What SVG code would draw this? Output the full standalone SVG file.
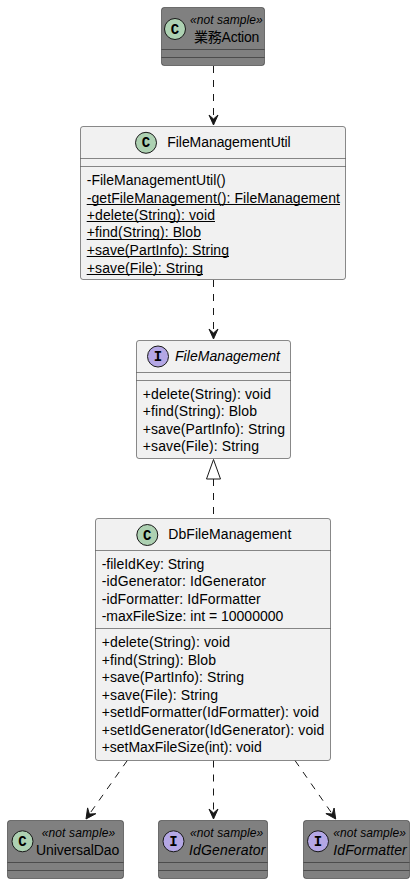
<svg xmlns="http://www.w3.org/2000/svg" width="415" height="884" viewBox="0 0 415 884">
<defs>
<style>
text{font-family:"Liberation Sans","Noto Sans CJK JP",sans-serif;font-size:14px;fill:#000}
.b{fill:#F1F1F1;stroke:#181818;stroke-width:.5}
.g{fill:#808080;stroke:#181818;stroke-width:.5}
.l{stroke:#181818;stroke-width:.5;fill:none}
.c{fill:#ADD1B2;stroke:#181818;stroke-width:1}
.i{fill:#B4A7E5;stroke:#181818;stroke-width:1}
.s{font-size:12px;font-style:italic}
.it{font-style:italic}
.u{stroke:#000;stroke-width:1;fill:none}
.e{stroke:#181818;stroke-width:1;fill:none;stroke-dasharray:7 7}
.h{fill:#181818;stroke:#181818;stroke-width:1;stroke-linejoin:round}
.mono{font-family:"Liberation Mono",monospace;font-weight:bold;font-size:14px}
</style>
</defs>
<g id="connectors">
<path class="e" d="M213.5 66V119"/><path class="h" d="M213.5 125 L218 115 L213.5 119 L209 115Z"/>
<path class="e" d="M213.5 280V333"/><path class="h" d="M213.5 339 L218 329 L213.5 333 L209 329Z"/>
<path class="e" d="M213.5 479V518"/><path d="M213.5 459.5 L220.5 479 L206.5 479Z" fill="none" stroke="#181818"/>
<path class="e" d="M127.3 760.5L89.4 814.1"/><path class="h" d="M86 819 L95.8 813.7 L89.4 814.1 L87.6 807.9Z"/>
<path class="e" d="M213.5 760.5V813"/><path class="h" d="M213.5 819 L218 809 L213.5 813 L209 809Z"/>
<path class="e" d="M295 760.5L332.3 814"/><path class="h" d="M335.7 819 L334.1 808 L332.3 814 L325.9 813.6Z"/>
</g>
<g id="action">
<rect class="g" x="161.5" y="7.5" width="103" height="58" rx="2.5"/>
<path class="l" d="M161.5 49.5H264.5M161.5 57.5H264.5"/>
<circle class="c" cx="175" cy="29" r="10.5"/>
<text class="mono" x="170.8" y="33.5">C</text>
<text class="s" x="190" y="24" textLength="72.7">«not sample»</text>
<text x="194" y="41.5" textLength="65.3">業務Action</text>
</g>
<g id="fileManagementUtil">
<rect class="b" x="80.5" y="126.5" width="265" height="153" rx="2.5"/>
<path class="l" d="M80.5 158.5H345.5M80.5 166.5H345.5"/>
<circle class="c" cx="146" cy="142.8" r="10.5"/>
<text class="mono" x="141.8" y="147.3">C</text>
<text x="167.3" y="147" textLength="123.4">FileManagementUtil</text>
<text x="86.7" y="185" textLength="139">-FileManagementUtil()</text>
<text x="86.7" y="202.5" textLength="253.3">-getFileManagement(): FileManagement</text>
<text x="86.7" y="220" textLength="128.3">+delete(String): void</text>
<text x="86.7" y="237" textLength="114.3">+find(String): Blob</text>
<text x="86.7" y="255" textLength="142.3">+save(PartInfo): String</text>
<text x="86.7" y="272.5" textLength="116.3">+save(File): String</text>
<path class="u" d="M86.7 204.5H340M86.7 221.5H215M86.7 239.5H201M86.7 256.5H229M86.7 274.5H203"/>
</g>
<g id="fileManagement">
<rect class="b" x="136.5" y="340.5" width="154" height="118" rx="2.5"/>
<path class="l" d="M136.5 372.5H290.5M136.5 380.5H290.5"/>
<circle class="i" cx="158" cy="356.5" r="10.5"/>
<text class="mono" x="153.8" y="361">I</text>
<text class="it" x="175" y="361" textLength="105">FileManagement</text>
<text x="142.7" y="399" textLength="128.3">+delete(String): void</text>
<text x="142.7" y="416" textLength="114.3">+find(String): Blob</text>
<text x="142.7" y="434" textLength="142.3">+save(PartInfo): String</text>
<text x="142.7" y="451" textLength="116.3">+save(File): String</text>
</g>
<g id="dbFileManagement">
<rect class="b" x="95.5" y="518.5" width="235" height="242" rx="2.5"/>
<path class="l" d="M95.5 550.5H330.5M95.5 628.5H330.5"/>
<circle class="c" cx="147.3" cy="535" r="10.5"/>
<text class="mono" x="143.1" y="539.5">C</text>
<text x="168.3" y="539" textLength="123">DbFileManagement</text>
<text x="101.7" y="569" textLength="102.6">-fileIdKey: String</text>
<text x="101.7" y="586" textLength="164.3">-idGenerator: IdGenerator</text>
<text x="101.7" y="604" textLength="159">-idFormatter: IdFormatter</text>
<text x="101.7" y="621" textLength="181.6">-maxFileSize: int = 10000000</text>
<text x="101.7" y="647" textLength="128.3">+delete(String): void</text>
<text x="101.7" y="665" textLength="114.3">+find(String): Blob</text>
<text x="101.7" y="682" textLength="142.3">+save(PartInfo): String</text>
<text x="101.7" y="700" textLength="116.3">+save(File): String</text>
<text x="101.7" y="717" textLength="217.3">+setIdFormatter(IdFormatter): void</text>
<text x="101.7" y="735" textLength="222.6">+setIdGenerator(IdGenerator): void</text>
<text x="101.7" y="752" textLength="160">+setMaxFileSize(int): void</text>
</g>
<g id="universalDao">
<rect class="g" x="7.5" y="820.5" width="116" height="58" rx="2.5"/>
<path class="l" d="M7.5 862.5H123.5M7.5 870.5H123.5"/>
<circle class="c" cx="22.5" cy="841.3" r="10.5"/>
<text class="mono" x="18.3" y="845.8">C</text>
<text class="s" x="41.7" y="837" textLength="73.5">«not sample»</text>
<text x="36" y="855" textLength="83.3">UniversalDao</text>
</g>
<g id="idGenerator">
<rect class="g" x="158.5" y="820.5" width="109" height="58" rx="2.5"/>
<path class="l" d="M158.5 862.5H267.5M158.5 870.5H267.5"/>
<circle class="i" cx="173.5" cy="841.3" r="10.5"/>
<text class="mono" x="169.3" y="845.8">I</text>
<text class="s" x="190" y="837" textLength="73.3">«not sample»</text>
<text class="it" x="189" y="855" textLength="76.5">IdGenerator</text>
</g>
<g id="idFormatter">
<rect class="g" x="303.5" y="820.5" width="106" height="58" rx="2.5"/>
<path class="l" d="M303.5 862.5H409.5M303.5 870.5H409.5"/>
<circle class="i" cx="318" cy="841.3" r="10.5"/>
<text class="mono" x="313.8" y="845.8">I</text>
<text class="s" x="333.3" y="837" textLength="72.7">«not sample»</text>
<text class="it" x="333.3" y="855" textLength="73.4">IdFormatter</text>
</g>
</svg>
